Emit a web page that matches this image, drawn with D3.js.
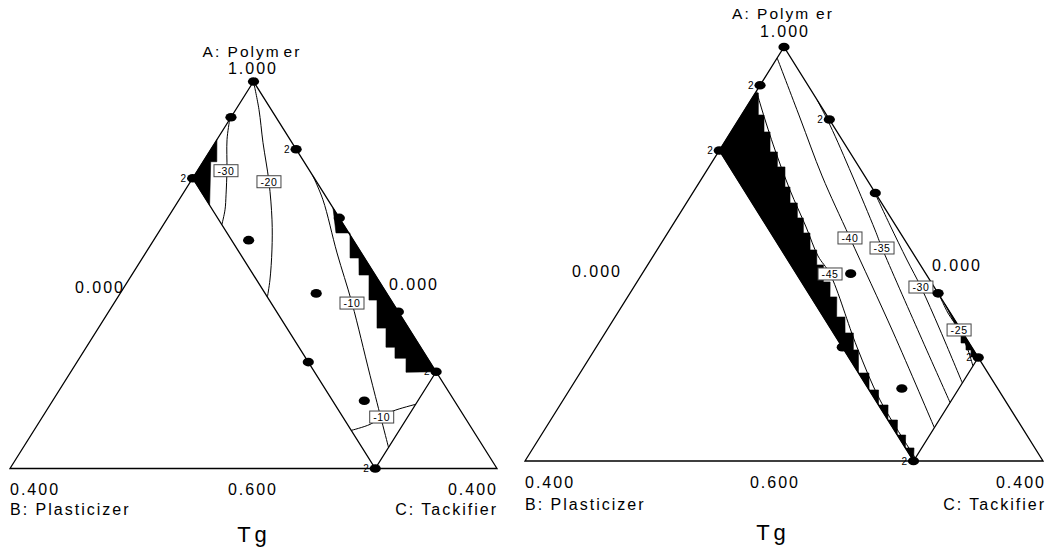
<!DOCTYPE html>
<html>
<head>
<meta charset="utf-8">
<script src="https://cdn.jsdelivr.net/npm/d3@7"></script>
<style>
  html, body { margin: 0; padding: 0; background: #fff; }
  svg text { font-family: "Liberation Sans", Arial, sans-serif; fill: #000; }
</style>
</head>
<body>
<svg id="chart" width="1047" height="552"></svg>
<script>
// ---- Mixture design runs: A = Polymer, B = Plasticizer, C = Tackifier ----
const runsA = [1.000, 0.963, 0.930, 0.900, 0.859, 0.836, 0.781, 0.762, 0.710, 0.700, 0.670, 0.600];
const runsB = [0.000, 0.037, 0.000, 0.100, 0.000, 0.086, 0.058, 0.000, 0.100, 0.000, 0.074, 0.100];
const runsC = [0.000, 0.000, 0.070, 0.000, 0.141, 0.078, 0.161, 0.238, 0.190, 0.300, 0.256, 0.300];

// runs flagged as replicated ("2") on each plot
const leftReplicates  = [2, 3, 9, 11];
const rightReplicates = [1, 2, 3, 9, 11];

// constrained design region (A, C); B = 1 - A - C
const regionA = [1.0, 0.9, 0.6, 0.7];
const regionC = [0.0, 0.0, 0.3, 0.3];

// axis text
const axisNames   = ["A: Polymer", "B: Plasticizer", "C: Tackifier"];
const vertexTicks = ["1.000", "0.400", "0.400"];
const edgeTicks   = ["0.000", "0.000", "0.600"];
const responseName = "Tg";

// ---- Left plot: Tg contours, points as [A, C] ----
const leftLevels = [-30, -20, -10, -10];
const leftLines = [
  [[0.9596,0.0005],[0.9399,0.0083],[0.9088,0.0238],[0.8829,0.0360],[0.8674,0.0429],[0.8520,0.0480]],
  [[0.9970,0.0020],[0.9710,0.0190],[0.9368,0.0394],[0.8964,0.0645],[0.8570,0.0867],[0.8259,0.1022],[0.7948,0.1161],[0.7772,0.1228]],
  [[0.9026,0.0974],[0.8777,0.1182],[0.8228,0.1572],[0.7710,0.1954],[0.6964,0.2475],[0.6218,0.3000]],
  [[0.6394,0.2606],[0.6456,0.2729],[0.6532,0.2787],[0.6594,0.2849],[0.6663,0.3000]]
];
const leftLabelAt = [[0.9078,0.0235],[0.8964,0.0645],[0.7710,0.1954],[0.6532,0.2787]];
const leftShaded = [
  [[0.9000,0.0000],[0.9399,0.0000],[0.9171,0.0113],[0.9171,0.0063],[0.8721,0.0279]],
  [[0.8694,0.1306],[0.7000,0.3000],[0.6995,0.2755],[0.7140,0.2683],[0.7140,0.2592],[0.7254,0.2535],
   [0.7254,0.2461],[0.7451,0.2363],[0.7451,0.2289],[0.7741,0.2144],[0.7741,0.2078],[0.8000,0.1949],
   [0.8000,0.1867],[0.8176,0.1778],[0.8176,0.1705],[0.8435,0.1575],[0.8435,0.1460]]
];

// ---- Right plot: Tg contours, points as [A, C] ----
const rightLevels = [-45, -40, -35, -30, -25];
const rightLines = [
  [[0.9575,0.0000],[0.9391,0.0135],[0.9005,0.0428],[0.8618,0.0737],[0.8261,0.1040],[0.7981,0.1272],[0.7807,0.1452],[0.7101,0.2013],[0.6589,0.2447],[0.6029,0.3000]],
  [[0.9894,0.0000],[0.9314,0.0467],[0.8754,0.0917],[0.8155,0.1432],[0.7246,0.2219],[0.6322,0.3000]],
  [[0.9488,0.0512],[0.9246,0.0732],[0.8763,0.1144],[0.8232,0.1587],[0.8058,0.1728],[0.7217,0.2442],[0.6565,0.3000]],
  [[0.8618,0.1382],[0.8280,0.1678],[0.7942,0.1979],[0.7681,0.2217],[0.7266,0.2572],[0.6754,0.3000]],
  [[0.7594,0.2406],[0.7430,0.2551],[0.7266,0.2719],[0.7101,0.2862],[0.6918,0.3000]]
];
const rightLabelAt = [[0.7807,0.1452],[0.8155,0.1432],[0.8058,0.1728],[0.7681,0.2217],[0.7266,0.2719]];
const rightShaded = [
  [[0.6000,0.3000],[0.6126,0.2941],[0.6126,0.2874],[0.6251,0.2814],[0.6251,0.2749],[0.6396,0.2678],
   [0.6396,0.2604],[0.6541,0.2533],[0.6541,0.2459],[0.6686,0.2387],[0.6686,0.2314],[0.6850,0.2231],
   [0.6850,0.2150],[0.7073,0.2038],[0.7073,0.1999],[0.7237,0.1917],[0.7237,0.1853],[0.7391,0.1775],
   [0.7391,0.1711],[0.7585,0.1615],[0.7585,0.1563],[0.7730,0.1491],[0.7730,0.1439],[0.7894,0.1357],
   [0.7894,0.1306],[0.8039,0.1233],[0.8039,0.1182],[0.8203,0.1099],[0.8203,0.1048],[0.8348,0.0975],
   [0.8348,0.0929],[0.8493,0.0856],[0.8493,0.0800],[0.8647,0.0723],[0.8647,0.0684],[0.8841,0.0587],
   [0.8841,0.0528],[0.8986,0.0456],[0.8986,0.0399],[0.9179,0.0303],[0.9179,0.0256],[0.9343,0.0174],
   [0.9343,0.0130],[0.9556,0.0024],[0.9556,0.0000],[0.9000,0.0000]],
  [[0.7517,0.2483],[0.7208,0.2792],[0.7005,0.2995],[0.7005,0.2942],[0.7073,0.2908],[0.7073,0.2869],
   [0.7140,0.2835],[0.7140,0.2797],[0.7208,0.2763]]
];

// ---- page layout for the two plots ----
const leftFrame = {
  x0: 10, w: 487, y0: 468.5, h: 387,
  title: [252, 57], titleGap: 3, apexTick: [253, 74],
  leftTick: [100, 293], rightTick: [414, 290],
  blTick: [10, 495], blName: [10, 515], midTick: [253, 495],
  brTick: [498, 495], brName: [498, 515], resp: [254, 542]
};
const rightFrame = {
  x0: 525, w: 518, y0: 461, h: 414,
  title: [783, 19], titleGap: 6, apexTick: [785, 37],
  leftTick: [597, 277], rightTick: [957, 271],
  blTick: [525, 488], blName: [525, 510], midTick: [775, 488],
  brTick: [1046, 488], brName: [1046, 510], resp: [773, 540]
};

const svg = d3.select("#chart");

function drawPlot(frame, levels, lines, labelAt, shaded, replicates) {
  const g = svg.append("g");
  const y = d3.scaleLinear().domain([0.6, 1.0]).range([frame.y0, frame.y0 - frame.h]);
  const x = d3.scaleLinear().domain([0, 1]).range([frame.x0, frame.x0 + frame.w]);
  // pseudo-component projection (A in 0.6..1, B and C in 0..0.4)
  const proj = ([a, c]) => {
    const ap = (a - 0.6) / 0.4, cp = c / 0.4;
    return [x(cp + ap / 2), y(a)];
  };
  const line = d3.line().x(d => proj(d)[0]).y(d => proj(d)[1]).curve(d3.curveCatmullRom.alpha(0.5));
  const poly = pts => "M" + pts.map(p => proj(p).join(",")).join("L") + "Z";

  // shaded areas
  g.selectAll("path.shade").data(shaded).join("path")
    .attr("class", "shade").attr("d", poly).attr("fill", "#000").attr("stroke", "#000").attr("stroke-width", 0.6);

  // outer simplex
  const outer = [[1.0, 0.0], [0.6, 0.0], [0.6, 0.4]];
  g.append("path").attr("d", poly(outer)).attr("fill", "none")
    .attr("stroke", "#000").attr("stroke-width", 1.3).attr("stroke-linejoin", "miter");

  // constraint region boundary inside the simplex
  const region = regionA.map((a, i) => [a, regionC[i]]);
  g.append("path").attr("d", "M" + [region[1], region[2], region[3]].map(p => proj(p).join(",")).join("L"))
    .attr("fill", "none").attr("stroke", "#000").attr("stroke-width", 1.3);

  // contour lines
  g.selectAll("path.contour").data(lines).join("path")
    .attr("class", "contour").attr("d", line).attr("fill", "none")
    .attr("stroke", "#000").attr("stroke-width", 1);

  // contour value tags
  const tags = g.selectAll("g.tag").data(levels).join("g").attr("class", "tag")
    .attr("transform", (d, i) => `translate(${proj(labelAt[i])})`);
  tags.append("rect").attr("x", -12).attr("y", -6).attr("width", 24).attr("height", 12)
    .attr("fill", "#fff").attr("stroke", "#444").attr("stroke-width", 1);
  tags.append("text").attr("text-anchor", "middle").attr("y", 4)
    .attr("font-size", 10.5).attr("letter-spacing", 0.6).text(d => d);

  // design runs
  const runs = runsA.map((a, i) => ({ a, b: runsB[i], c: runsC[i], i }));
  g.selectAll("ellipse").data(runs).join("ellipse")
    .attr("cx", d => proj([d.a, d.c])[0]).attr("cy", d => proj([d.a, d.c])[1])
    .attr("rx", 5.6).attr("ry", 4.3).attr("fill", "#000");
  g.selectAll("text.rep").data(runs.filter(d => replicates.includes(d.i))).join("text")
    .attr("class", "rep").attr("text-anchor", "end").attr("font-size", 10)
    .attr("x", d => proj([d.a, d.c])[0] - 6.5).attr("y", d => proj([d.a, d.c])[1] + 3.5)
    .text("2");

  // axis labels
  const txt = (pos, s, anchor, size, ls) => g.append("text").attr("x", pos[0]).attr("y", pos[1])
    .attr("text-anchor", anchor).attr("font-size", size).attr("letter-spacing", ls).text(s);
  const nameA = axisNames[0];
  const tA = g.append("text").attr("x", frame.title[0]).attr("y", frame.title[1])
    .attr("text-anchor", "middle").attr("font-size", 15.5).attr("letter-spacing", 2);
  tA.append("tspan").text(nameA.slice(0, 8));
  tA.append("tspan").attr("dx", frame.titleGap).text(nameA.slice(8));
  txt(frame.apexTick, vertexTicks[0], "middle", 16, 2);
  txt(frame.leftTick, edgeTicks[0], "middle", 16, 2);
  txt(frame.rightTick, edgeTicks[1], "middle", 16, 2);
  txt(frame.blTick, vertexTicks[1], "start", 16, 2);
  txt(frame.blName, axisNames[1], "start", 16, 2);
  txt(frame.midTick, edgeTicks[2], "middle", 16, 2);
  txt(frame.brTick, vertexTicks[2], "end", 16, 2);
  txt(frame.brName, axisNames[2], "end", 16, 2);
  txt(frame.resp, responseName, "middle", 22, 4);
}

drawPlot(leftFrame, leftLevels, leftLines, leftLabelAt, leftShaded, leftReplicates);
drawPlot(rightFrame, rightLevels, rightLines, rightLabelAt, rightShaded, rightReplicates);
</script>
</body>
</html>
